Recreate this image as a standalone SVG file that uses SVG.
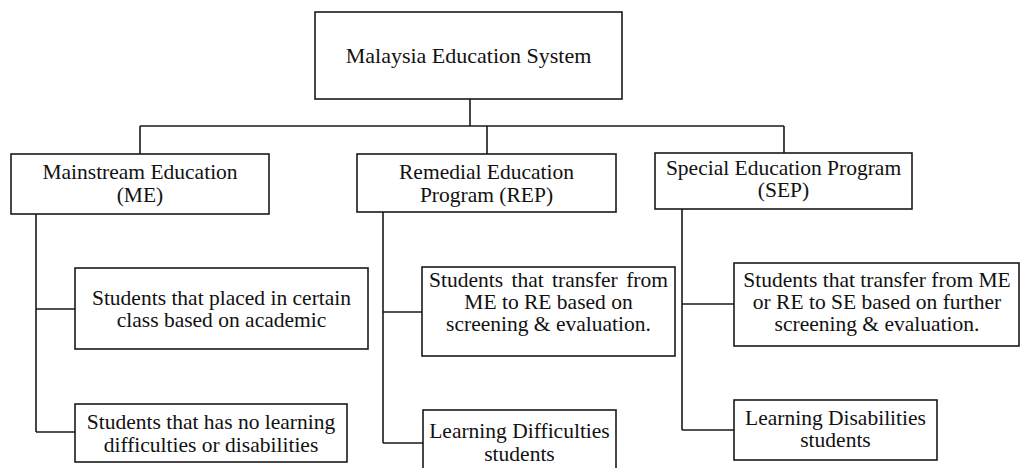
<svg xmlns="http://www.w3.org/2000/svg" width="1021" height="468" viewBox="0 0 1021 468" font-family="'Liberation Serif', 'DejaVu Serif', serif">
<style>
.box{fill:#fff;stroke:#1a1a1a;stroke-width:1.6}
.ln{fill:none;stroke:#1a1a1a;stroke-width:1.6}
.t{font-family:'Liberation Serif','DejaVu Serif',serif;font-size:21.5px;fill:#111;text-anchor:middle}
</style>
<rect width="1021" height="468" fill="#fff"/>
<g id="connectors">
<path class="ln" d="M470,99 V126 M140,126 H784 M140,126 V154 M487,126 V154 M784,126 V153"/>
<path class="ln" d="M36,214 V432 M36,309 H75 M36,432 H75"/>
<path class="ln" d="M383,212 V443 M383,312 H422 M383,443 H423"/>
<path class="ln" d="M682,209 V430 M682,304 H734 M682,430 H734"/>
</g>
<g id="root">
<rect class="box" x="315" y="12" width="307" height="87"/>
<text class="t" x="468.5" y="63" style="font-size:22px">Malaysia Education System</text>
</g>
<g id="me">
<rect class="box" x="11" y="154" width="258" height="60"/>
<text class="t" x="140" y="179">Mainstream Education</text>
<text class="t" x="140" y="202">(ME)</text>
</g>
<g id="rep">
<rect class="box" x="357" y="154" width="259" height="58"/>
<text class="t" x="486.5" y="179">Remedial Education</text>
<text class="t" x="486.5" y="202">Program (REP)</text>
</g>
<g id="sep">
<rect class="box" x="655" y="153" width="257" height="56"/>
<text class="t" x="783.5" y="175">Special Education Program</text>
<text class="t" x="783.5" y="197">(SEP)</text>
</g>
<g id="me1">
<rect class="box" x="75" y="268" width="293" height="81"/>
<text class="t" x="221.5" y="305">Students that placed in certain</text>
<text class="t" x="221.5" y="327">class based on academic</text>
</g>
<g id="me2">
<rect class="box" x="75" y="404" width="272" height="58"/>
<text class="t" x="211" y="429">Students that has no learning</text>
<text class="t" x="211" y="452">difficulties or disabilities</text>
</g>
<g id="rep1">
<rect class="box" x="422" y="267" width="253" height="89"/>
<text class="t" x="548.5" y="287" word-spacing="3">Students that transfer from</text>
<text class="t" x="548.5" y="309">ME to RE based on</text>
<text class="t" x="548.5" y="331">screening &amp; evaluation.</text>
</g>
<g id="rep2">
<rect class="box" x="423" y="410" width="193" height="62"/>
<text class="t" x="519.5" y="438">Learning Difficulties</text>
<text class="t" x="519.5" y="461">students</text>
</g>
<g id="sep1">
<rect class="box" x="734" y="263" width="285" height="83"/>
<text class="t" x="877" y="287">Students that transfer from ME</text>
<text class="t" x="877" y="309">or RE to SE based on further</text>
<text class="t" x="877" y="331">screening &amp; evaluation.</text>
</g>
<g id="sep2">
<rect class="box" x="734" y="400" width="203" height="60"/>
<text class="t" x="835.5" y="425">Learning Disabilities</text>
<text class="t" x="835.5" y="447">students</text>
</g>
</svg>
